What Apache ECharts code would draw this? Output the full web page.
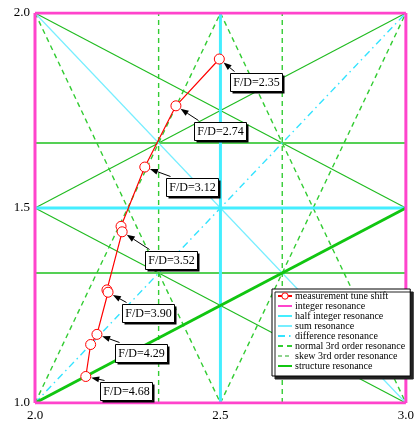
<!DOCTYPE html>
<html>
<head>
<meta charset="utf-8">
<script src="https://cdn.jsdelivr.net/npm/echarts@6/dist/echarts.min.js"></script>
<style>
  html, body { margin: 0; padding: 0; background: #ffffff; }
  #chart { width: 417px; height: 422px; }
</style>
</head>
<body>
<div id="chart"></div>
<script>
// Measured working point (horizontal tune, vertical tune) for each F/D setting
const tuneX = [2.497, 2.380, 2.296, 2.232, 2.235, 2.194, 2.197, 2.167, 2.150, 2.137];
const tuneY = [1.882, 1.762, 1.605, 1.453, 1.439, 1.290, 1.284, 1.176, 1.150, 1.068];
const tuneFD = ['F/D=2.35', 'F/D=2.74', 'F/D=3.12', null, 'F/D=3.52', null, 'F/D=3.90', 'F/D=4.29', null, 'F/D=4.68'];

// Resonance lines  m*nux + n*nuy = p, each written as [m, n, p]
const integerRes = [[1, 0, 2], [1, 0, 3], [0, 1, 1], [0, 1, 2]];
const halfIntegerRes = [[2, 0, 5], [0, 2, 3]];
const sumRes = [[1, 1, 4]];
const differenceRes = [[1, -1, 1]];
const normal3rdRes = [[3, 0, 7], [3, 0, 8], [2, 1, 6], [2, 1, 7], [2, -1, 3], [2, -1, 4]];
const skew3rdRes = [[1, 2, 5], [1, 2, 6], [1, -2, -1]];
const skew3rdVertRes = [[0, 3, 4], [0, 3, 5]];
const structureRes = [[1, -2, 0]];

// Axis ranges and tick labels
const xRange = [2, 3];
const yRange = [1, 2];
const xTicks = ['2.0', '2.5', '3.0'];
const yTicks = ['1.0', '1.5', '2.0'];

const SERIF = '"Liberation Serif", "Times New Roman", serif';

// Clip a resonance line to the tune window and return its two end points
function clipLine(m, n, p) {
  const [x0, x1] = xRange, [y0, y1] = yRange;
  if (n === 0) { const x = p / m; return [[x, y0], [x, y1]]; }
  if (m === 0) { const y = p / n; return [[x0, y], [x1, y]]; }
  const pts = [];
  const eps = 1e-9;
  [x0, x1].forEach(x => { const y = (p - m * x) / n; if (y >= y0 - eps && y <= y1 + eps) pts.push([x, y]); });
  [y0, y1].forEach(y => { const x = (p - n * y) / m; if (x >= x0 - eps && x <= x1 + eps) pts.push([x, y]); });
  pts.sort((a, b) => a[0] - b[0] || a[1] - b[1]);
  return [pts[0], pts[pts.length - 1]];
}

const families = [
  { name: 'skew 3rd order resonance', lines: skew3rdRes, style: { color: '#1fbb1f', width: 1.1, type: 'solid' } },
  { name: 'skew 3rd order resonance', lines: skew3rdVertRes, style: { color: '#55d055', width: 2, type: 'solid' } },
  { name: 'normal 3rd order resonance', lines: normal3rdRes, style: { color: '#33cc33', width: 1.4, type: [5, 4] } },
  { name: 'sum resonance', lines: sumRes, style: { color: '#77eeff', width: 1.2, type: 'solid' } },
  { name: 'difference resonance', lines: differenceRes, style: { color: '#33e3ff', width: 1.4, type: [7, 4, 1.5, 4] } },
  { name: 'half integer resonance', lines: halfIntegerRes, style: { color: '#44eeff', width: 3, type: 'solid' } },
  { name: 'structure resonance', lines: structureRes, style: { color: '#11c611', width: 3, type: 'solid' } },
  { name: 'integer resonance', lines: integerRes, style: { color: '#ff44cc', width: 3, type: 'solid' } }
];

const series = [];
families.forEach(f => {
  f.lines.forEach(([m, n, p]) => {
    series.push({
      name: f.name,
      type: 'line',
      data: clipLine(m, n, p),
      symbol: 'none',
      silent: true,
      lineStyle: { color: f.style.color, width: f.style.width, type: f.style.type },
      itemStyle: { color: f.style.color },
      z: 2
    });
  });
});

series.push({
  name: 'measurement tune shift',
  type: 'line',
  data: tuneX.map((x, i) => [x, tuneY[i]]),
  symbol: 'circle',
  symbolSize: 10,
  showSymbol: true,
  silent: true,
  lineStyle: { color: '#ff0000', width: 1.2 },
  itemStyle: { color: '#ffffff', borderColor: '#ff0000', borderWidth: 1 },
  z: 5
});

const legendNames = [
  'measurement tune shift', 'integer resonance', 'half integer resonance', 'sum resonance',
  'difference resonance', 'normal 3rd order resonance', 'skew 3rd order resonance', 'structure resonance'
];

const chart = echarts.init(document.getElementById('chart'), null, { renderer: 'canvas' });

chart.setOption({
  animation: false,
  backgroundColor: '#ffffff',
  grid: { left: 35, right: 9, top: 13, bottom: 18 },
  xAxis: {
    type: 'value', min: xRange[0], max: xRange[1], interval: 0.5,
    axisLine: { show: false }, axisTick: { show: false }, splitLine: { show: false },
    axisLabel: {
      margin: 6, color: '#000', fontFamily: SERIF, fontSize: 13,
      formatter: v => xTicks[Math.round((v - xRange[0]) / 0.5)]
    }
  },
  yAxis: {
    type: 'value', min: yRange[0], max: yRange[1], interval: 0.5,
    axisLine: { show: false }, axisTick: { show: false }, splitLine: { show: false },
    axisLabel: {
      margin: 5, color: '#000', fontFamily: SERIF, fontSize: 13,
      formatter: v => yTicks[Math.round((v - yRange[0]) / 0.5)]
    }
  },
  legend: {
    orient: 'vertical',
    left: 272, top: 289,
    selectedMode: false,
    backgroundColor: '#ffffff',
    borderColor: '#000000', borderWidth: 1,
    shadowColor: '#222222', shadowOffsetX: 3, shadowOffsetY: 3, shadowBlur: 0,
    padding: [2, 5, 5, 5],
    itemGap: 0, itemWidth: 14, itemHeight: 8,
    textStyle: { fontFamily: SERIF, fontSize: 10, lineHeight: 10, color: '#000', padding: [0, 0, 0, -2] },
    data: legendNames.map(name => {
      if (name === 'measurement tune shift') {
        return { name, itemStyle: { color: '#fff', borderColor: '#ff0000', borderWidth: 1 } };
      }
      const item = { name, itemStyle: { opacity: 0 } };
      if (name === 'skew 3rd order resonance') {
        item.lineStyle = { type: [4, 3], color: '#1fa81f', width: 1.2 };
      }
      return item;
    })
  },
  series
});

// Label boxes with arrows pointing at the labelled working points
const labelOffsets = [[11, 14], [18, 16], [21, 11], [23, 19], [14, 12], [18, 10], [14, 6]];
const BOX_W = 52, BOX_H = 18, R = 5.5, HEAD_L = 8, HEAD_W = 3;
const graphics = [];
let k = 0;
tuneFD.forEach((txt, i) => {
  if (!txt) return;
  const [px, py] = chart.convertToPixel({ gridIndex: 0 }, [tuneX[i], tuneY[i]]);
  const [dx, dy] = labelOffsets[k++];
  const bx = Math.round(px + dx) + 0.5, by = Math.round(py + dy) + 0.5;
  // arrow from the box corner to the marker edge
  const tx = bx + 4, ty = by - 2;
  const vx = px - tx, vy = py - ty;
  const len = Math.hypot(vx, vy);
  const ux = vx / len, uy = vy / len;
  const tipX = px - ux * R, tipY = py - uy * R;
  const baseX = tipX - ux * HEAD_L, baseY = tipY - uy * HEAD_L;
  graphics.push({
    type: 'line', z: 100, silent: true,
    shape: { x1: tx, y1: ty, x2: baseX, y2: baseY },
    style: { stroke: '#000', lineWidth: 1 }
  });
  graphics.push({
    type: 'polygon', z: 100, silent: true,
    shape: { points: [[tipX, tipY], [baseX - uy * HEAD_W, baseY + ux * HEAD_W], [baseX + uy * HEAD_W, baseY - ux * HEAD_W]] },
    style: { fill: '#000' }
  });
  graphics.push({
    type: 'rect', z: 100, silent: true,
    shape: { x: bx + 2, y: by + 2, width: BOX_W, height: BOX_H },
    style: { fill: '#000' }
  });
  graphics.push({
    type: 'rect', z: 101, silent: true,
    shape: { x: bx, y: by, width: BOX_W, height: BOX_H },
    style: { fill: '#fff', stroke: '#000', lineWidth: 1 }
  });
  graphics.push({
    type: 'text', z: 102, silent: true,
    style: {
      text: txt, x: bx + BOX_W / 2, y: by + BOX_H / 2 + 0.5,
      textAlign: 'center', textVerticalAlign: 'middle',
      font: '12px ' + SERIF, fill: '#000'
    }
  });
});
chart.setOption({ graphic: graphics });
</script>
</body>
</html>
